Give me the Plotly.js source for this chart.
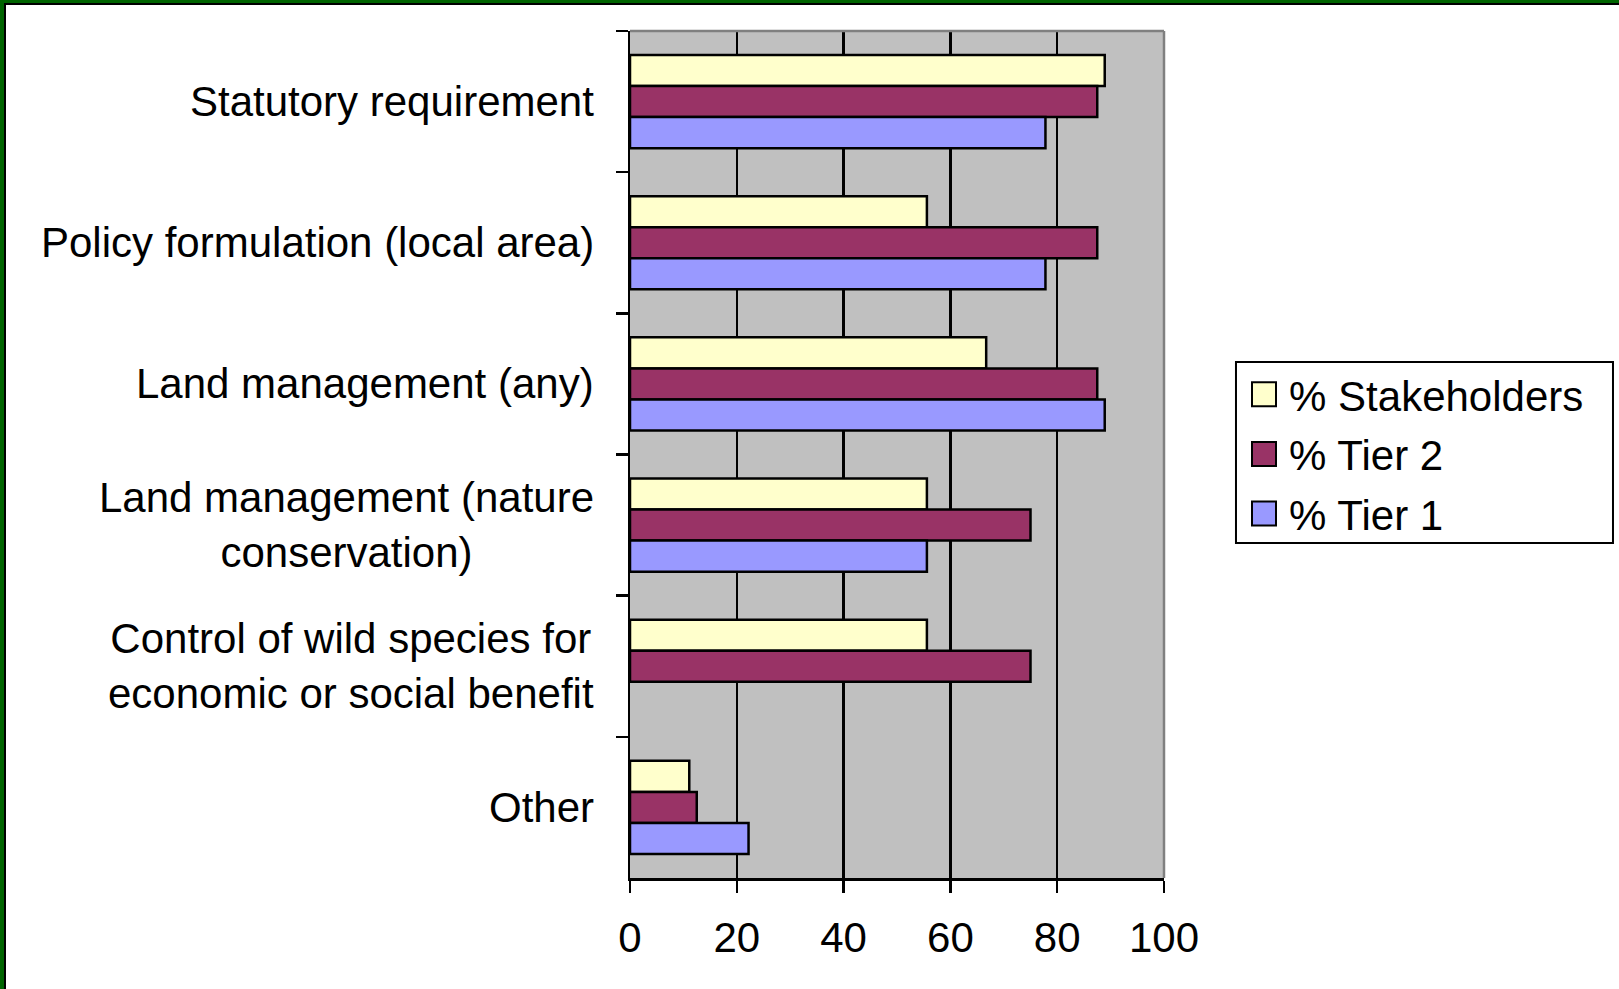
<!DOCTYPE html>
<html>
<head>
<meta charset="utf-8">
<script src="https://cdn.plot.ly/plotly-3.0.1.min.js"></script>
<style>
  html, body { margin: 0; padding: 0; background: #ffffff; }
  #chart { position: absolute; left: 0; top: 0; width: 1619px; height: 989px; }
  .frame { position: absolute; pointer-events: none; }
</style>
</head>
<body>
<div id="chart"></div>
<div class="frame" style="left:0;top:0;width:4px;height:989px;background:#006400;"></div>
<div class="frame" style="left:0;top:0;width:1619px;height:3px;background:#006400;"></div>
<div class="frame" style="left:4px;top:3px;width:2px;height:986px;background:#000000;"></div>
<div class="frame" style="left:4px;top:3px;width:1615px;height:2px;background:#000000;"></div>
<script>
// Categories (top to bottom)
var categories = [
  "Statutory requirement",
  "Policy formulation (local area)",
  "Land management (any)",
  "Land management (nature conservation)",
  "Control of wild species for economic or social benefit",
  "Other"
];
var categoryLabels = [
  "Statutory requirement",
  "Policy formulation (local area)",
  "Land management (any)",
  "Land management (nature<br>conservation)",
  "Control of wild species for<br>economic or social benefit",
  "Other"
];
// Series values (%)
var stakeholders = [88.9, 55.6, 66.7, 55.6, 55.6, 11.1];
var tier2 = [87.5, 87.5, 87.5, 75.0, 75.0, 12.5];
var tier1 = [77.8, 77.8, 88.9, 55.6, 0, 22.2];
var seriesNames = ["% Stakeholders", "% Tier 2", "% Tier 1"];
var xTicks = [0, 20, 40, 60, 80, 100];

var FONT = "Liberation Sans, Arial, sans-serif";
var colors = ["#FFFFCC", "#993366", "#9999FF"];
var series = [stakeholders, tier2, tier1];

var traces = series.map(function (vals, i) {
  return {
    type: "bar",
    orientation: "h",
    name: seriesNames[i],
    legendgroup: "g" + i,
    y: categories,
    x: vals,
    marker: {
      color: colors[i],
      line: { color: "#000000", width: vals.map(function (v) { return v === 0 ? 0 : 2.5; }) }
    },
    hoverinfo: "x+name"
  };
});

var annotations = categories.map(function (c, i) {
  return {
    xref: "paper", yref: "y",
    x: 0, y: c,
    xanchor: "right", yanchor: "middle",
    xshift: -34,
    align: "center",
    showarrow: false,
    text: categoryLabels[i],
    font: { family: FONT, size: 42, color: "#000000" }
  };
});

var layout = {
  width: 1619,
  height: 989,
  paper_bgcolor: "#ffffff",
  plot_bgcolor: "#C0C0C0",
  margin: { l: 630, r: 455, t: 31, b: 111, pad: 0 },
  barmode: "group",
  bargap: 0.34,
  bargroupgap: 0,
  font: { family: FONT, size: 42, color: "#000000" },
  showlegend: true,
  legend: {
    x: 1.135, y: 0.611, xanchor: "left", yanchor: "top",
    bgcolor: "rgba(0,0,0,0)",
    borderwidth: 0,
    itemwidth: 43,
    tracegroupgap: 2,
    font: { family: FONT, size: 42, color: "#000000" },
    traceorder: "grouped"
  },
  xaxis: {
    range: [0, 100],
    tickvals: xTicks,
    ticktext: xTicks.map(String),
    showgrid: true,
    gridcolor: "#000000",
    gridwidth: 2.5,
    zeroline: false,
    showline: true,
    linecolor: "#000000",
    linewidth: 2.5,
    ticks: "outside",
    ticklen: 12,
    tickwidth: 2.5,
    tickcolor: "#000000",
    ticklabelstandoff: 9,
    tickfont: { family: FONT, size: 42, color: "#000000" },
    fixedrange: true
  },
  yaxis: {
    type: "category",
    categoryorder: "array",
    categoryarray: categories,
    autorange: "reversed",
    showgrid: false,
    zeroline: false,
    showline: true,
    linecolor: "#000000",
    linewidth: 2.5,
    ticks: "outside",
    tickson: "boundaries",
    ticklen: 12,
    tickwidth: 2.5,
    tickcolor: "#000000",
    showticklabels: false,
    fixedrange: true
  },
  annotations: annotations,
  shapes: [
    { type: "line", xref: "paper", yref: "paper", x0: 0, x1: 1, y0: 1, y1: 1,
      line: { color: "#808080", width: 2.5 }, layer: "above" },
    { type: "line", xref: "paper", yref: "paper", x0: 1, x1: 1, y0: 0, y1: 1,
      line: { color: "#808080", width: 2.5 }, layer: "above" },
    // legend frame
    { type: "rect", xref: "paper", yref: "paper", x0: 1.1348, x1: 1.8408, y0: 0.3955, y1: 0.6092,
      line: { color: "#000000", width: 2 }, fillcolor: "#ffffff", layer: "below" }
  ]
};

Plotly.newPlot("chart", traces, layout, { displayModeBar: false, staticPlot: true }).then(function (gd) {
  // enlarge the legend swatches to match the reference's larger squares
  var targetCx = 1264;
  gd.querySelectorAll(".legend .legendpoints path").forEach(function (p) {
    var r0 = p.getBoundingClientRect();
    var cx0 = r0.left + r0.width / 2;
    var bb = p.getBBox();
    var lcx = bb.x + bb.width / 2, lcy = bb.y + bb.height / 2;
    var orig = p.getAttribute("transform") || "";
    var dx = targetCx - cx0;
    p.setAttribute("transform", orig + " translate(" + (lcx + dx) + "," + lcy + ") scale(2) translate(" + (-lcx) + "," + (-lcy) + ")");
    p.style.strokeWidth = "1px";
  });
});
</script>
</body>
</html>
